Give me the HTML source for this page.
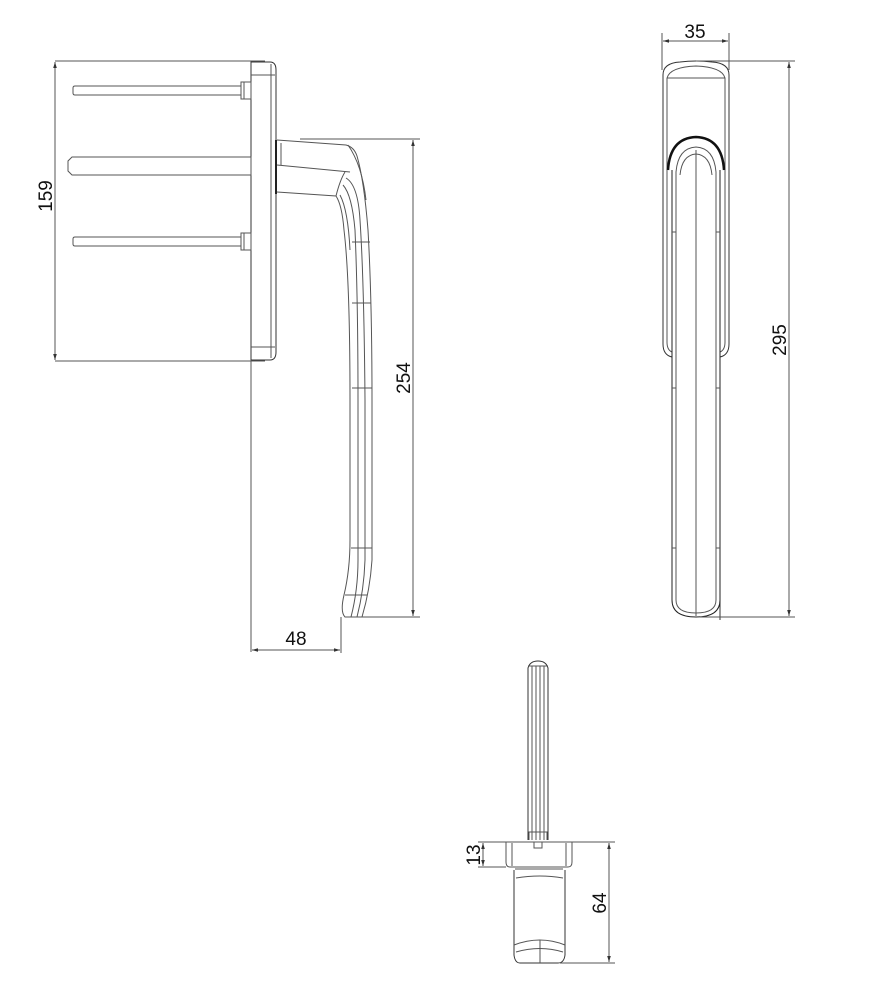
<!DOCTYPE html>
<html><head><meta charset="utf-8"><style>
html,body{margin:0;padding:0;background:#fff;}
svg{display:block;}
text{font-family:"Liberation Sans",sans-serif;font-size:19px;fill:#111;}
</style></head><body>
<svg width="875" height="1000" viewBox="0 0 875 1000" xmlns="http://www.w3.org/2000/svg">
<defs>
<marker id="a" viewBox="0 0 10 10" refX="10" refY="5" markerWidth="6" markerHeight="6" orient="auto-start-reverse"><path d="M0,2 L10,5 L0,8 z" fill="#333"/></marker>
</defs>
<g fill="none" stroke="#555" stroke-width="1">
<!-- ===== SIDE VIEW ===== -->
<!-- dim 159 -->
<line x1="55" y1="61" x2="265" y2="61"/>
<line x1="55" y1="361" x2="265" y2="361"/>
<line x1="55" y1="62" x2="55" y2="360" marker-start="url(#a)" marker-end="url(#a)"/>
<!-- rosette plate -->
<path d="M251,62 H270 Q276,62 276,70 V352 Q276,360 270,360 H251 Z" stroke="#333"/>
<line x1="271" y1="64" x2="271" y2="358"/>
<line x1="251" y1="75" x2="275" y2="75"/>
<line x1="251" y1="347" x2="275" y2="347"/>
<line x1="251" y1="360" x2="251" y2="652"/>
<!-- pins -->
<path d="M75,86 H241 V95 H75 Q73,95 73,93 V88 Q73,86 75,86 Z"/>
<path d="M241,82 H251 V99 H241 Z"/>
<line x1="244" y1="82" x2="244" y2="99"/>
<path d="M72,157 H251 V175 H72 L68,171 V161 Z"/>
<path d="M75,237 H241 V246 H75 Q73,246 73,244 V239 Q73,237 75,237 Z"/>
<path d="M241,233 H251 V250 H241 Z"/>
<line x1="244" y1="233" x2="244" y2="250"/>
<!-- handle neck -->
<path d="M276,140 V194" stroke="#222" stroke-width="2"/>
<path d="M277,140 L346,145 Q354,147 357,156 Q364,180 368,230 Q372,300 372,400 V560 Q370,590 362,617 H345 Q340,612 344,595 Q350,570 350,540 V400 Q350,280 344,230 Q342,205 336,196 L277,192"/>
<line x1="277" y1="165" x2="350" y2="172"/>
<line x1="281" y1="143" x2="281" y2="165"/>
<path d="M336,196 Q340,180 345,172"/>
<path d="M346,178 Q358,185 360,220 Q364,280 365,400 V560 Q364,590 357,617"/>
<path d="M343,185 Q352,195 355,230 Q358,300 358,400 V560 Q358,590 351,617"/>
<path d="M340,195 Q348,210 350,250"/>
<path d="M348,145 Q362,165 366,200"/>
<line x1="352" y1="242" x2="370" y2="242"/>
<line x1="352" y1="303" x2="371" y2="303"/>
<line x1="352" y1="388" x2="372" y2="388"/>
<line x1="351" y1="548" x2="372" y2="548"/>
<line x1="345" y1="595" x2="367" y2="595"/>
<!-- dim 254 -->
<line x1="300" y1="139" x2="420" y2="139"/>
<line x1="360" y1="617" x2="420" y2="617"/>
<line x1="413" y1="140" x2="413" y2="616" marker-start="url(#a)" marker-end="url(#a)"/>
<!-- dim 48 -->
<line x1="341" y1="617" x2="341" y2="653"/>
<line x1="252" y1="650" x2="340" y2="650" marker-start="url(#a)" marker-end="url(#a)"/>

<!-- ===== FRONT VIEW ===== -->
<line x1="662" y1="33" x2="662" y2="70"/>
<line x1="729" y1="33" x2="729" y2="70"/>
<line x1="663" y1="41" x2="728" y2="41" marker-start="url(#a)" marker-end="url(#a)"/>
<path d="M663,75 Q663,63 680,62 Q696,60 712,62 Q729,63 729,75 V344 Q729,355 720,357 L720,620 M663,75 V344 Q663,355 672,357" stroke="#333"/>
<path d="M667,78 Q670,67 696,66 Q722,67 725,78 V342 Q725,350 720,352 M667,78 V342 Q667,350 672,352"/>
<line x1="667" y1="78" x2="725" y2="78"/>
<!-- handle -->
<path d="M668,170 Q670,138 696,137 Q722,138 724,170" stroke="#111" stroke-width="2.5"/>
<path d="M672,170 V600 Q672,617 696,617 Q720,617 720,600 V170" stroke="#222"/>
<path d="M676,172 Q678,148 696,147 Q714,148 716,172 V600 Q716,613 696,613 Q676,613 676,600 Z"/>
<path d="M680,175 Q682,155 696,154 Q710,155 712,175"/>
<line x1="696" y1="150" x2="696" y2="616"/>
<line x1="672" y1="232" x2="676" y2="232"/>
<line x1="716" y1="232" x2="720" y2="232"/>
<line x1="672" y1="388" x2="676" y2="388"/>
<line x1="716" y1="388" x2="720" y2="388"/>
<line x1="672" y1="548" x2="676" y2="548"/>
<line x1="716" y1="548" x2="720" y2="548"/>
<!-- dim 295 -->
<line x1="696" y1="61" x2="795" y2="61"/>
<line x1="700" y1="617" x2="795" y2="617"/>
<line x1="789" y1="62" x2="789" y2="616" marker-start="url(#a)" marker-end="url(#a)"/>

<!-- ===== BOTTOM VIEW ===== -->
<path d="M528,840 V668 Q530,661 538,661 Q546,661 548,668 V840" stroke="#333"/>
<line x1="532" y1="666" x2="532" y2="840"/>
<line x1="536" y1="666" x2="536" y2="840"/>
<line x1="540" y1="666" x2="540" y2="840"/>
<line x1="544" y1="666" x2="544" y2="840"/>
<line x1="528" y1="666" x2="548" y2="666"/>
<path d="M529,840 V832 H547 V840"/>
<rect x="534" y="842" width="8" height="6"/>
<path d="M506,842 H572 V862 Q572,867 568,867 H510 Q506,867 506,862 Z"/>
<line x1="512" y1="843" x2="512" y2="866"/>
<line x1="566" y1="843" x2="566" y2="866"/>
<line x1="515" y1="869" x2="563" y2="869"/>
<path d="M514,870 V955 Q515,963 520,963 H558 Q564,963 565,955 V870" stroke="#333"/>
<path d="M516,878 Q540,874 563,878"/>
<path d="M514,945 Q540,935 565,945"/>
<path d="M516,952 Q540,945 563,952"/>
<line x1="540" y1="940" x2="540" y2="963"/>
<!-- dim 13 -->
<line x1="478" y1="842" x2="506" y2="842"/>
<line x1="478" y1="867" x2="506" y2="867"/>
<line x1="483" y1="843" x2="483" y2="866" marker-start="url(#a)" marker-end="url(#a)"/>
<!-- dim 64 -->
<line x1="572" y1="842" x2="615" y2="842"/>
<line x1="560" y1="963" x2="615" y2="963"/>
<line x1="609" y1="843" x2="609" y2="962" marker-start="url(#a)" marker-end="url(#a)"/>
</g>
<text x="695" y="38" text-anchor="middle">35</text>
<text x="296" y="645" text-anchor="middle">48</text>
<text transform="translate(52,196) rotate(-90)" text-anchor="middle">159</text>
<text transform="translate(410,378) rotate(-90)" text-anchor="middle">254</text>
<text transform="translate(786,340) rotate(-90)" text-anchor="middle">295</text>
<text transform="translate(480,855) rotate(-90)" text-anchor="middle">13</text>
<text transform="translate(606,903) rotate(-90)" text-anchor="middle">64</text>
</svg>
</body></html>
